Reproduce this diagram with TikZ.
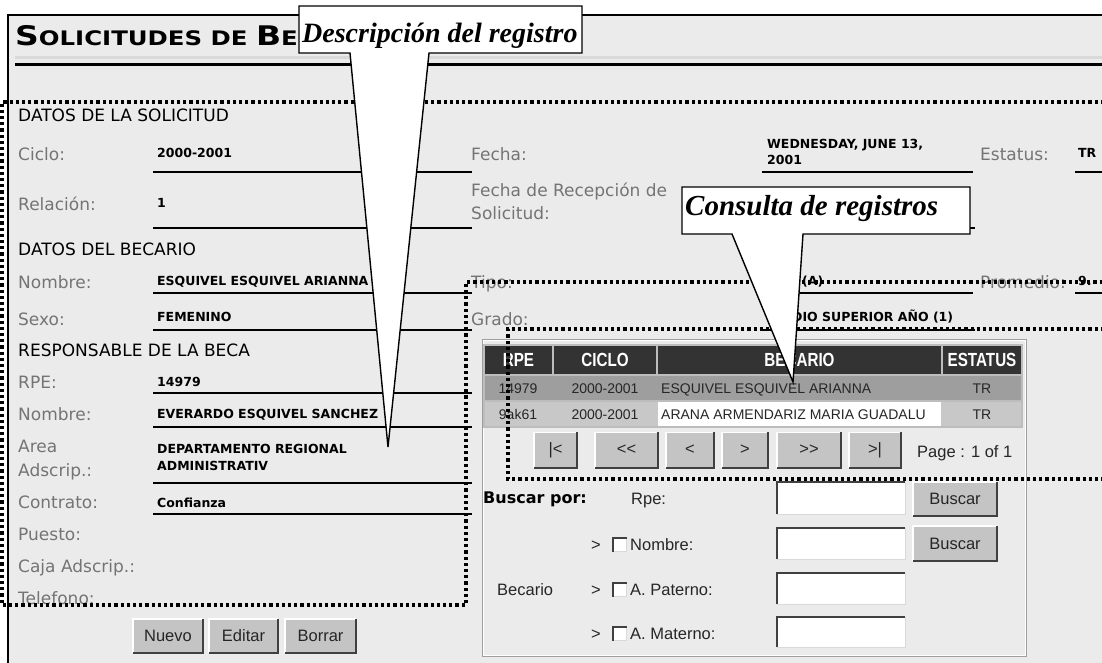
\documentclass[tikz,border=0pt]{standalone}
\usepackage{fontspec}
\setmainfont{DejaVu Sans}
\newfontfamily\dv{DejaVu Sans}
\newfontfamily\ls{Liberation Sans}
\newfontfamily\tms{Liberation Serif}
\definecolor{bg}{HTML}{EBEBEB}
\definecolor{labgray}{HTML}{747474}
\definecolor{hdr}{HTML}{333333}
\definecolor{rowa}{HTML}{9E9E9E}
\definecolor{rowb}{HTML}{C8C8C8}
\definecolor{btnface}{HTML}{C4C4C4}
\definecolor{btndark}{HTML}{404040}
\definecolor{tblbg}{HTML}{BDBDBD}
\tikzset{
 lab/.style={anchor=base west, inner sep=0pt, font=\dv\fontsize{17}{17}\selectfont, text=labgray},
 sec/.style={lab, text=black},
 val/.style={anchor=base west, inner sep=0pt, font=\dv\bfseries\fontsize{12.5}{12.5}\selectfont, text=black},
 fline/.style={line width=2pt, black},
 dotbord/.style={draw=black, line width=3.4pt, dash pattern=on 3.2pt off 3pt},
 hcell/.style={fill=hdr, draw=none, inner sep=0pt, text=white},
 rcell/.style={draw=none, inner sep=0pt},
 rtext/.style={anchor=base, inner sep=0pt, font=\ls\fontsize{14}{14}\selectfont, text=black!85},
 btn/.style={fill=btnface, draw=none, inner sep=0pt, font=\ls\fontsize{16.5}{16.5}\selectfont, text=black!85},
 field/.style={fill=white, draw=none, inner sep=0pt},
 stxt/.style={anchor=base west, inner sep=0pt, font=\ls\fontsize{16.5}{16.5}\selectfont, text=black!85},
 callout/.style={fill=white, draw=black, line width=1.4pt, line join=miter},
 ctext/.style={anchor=base west, inner sep=0pt, font=\tms\bfseries\itshape\fontsize{28}{28}\selectfont},
}
\newcommand\hd[1]{\scalebox{0.8}[1]{\ls\bfseries\fontsize{19}{19}\selectfont #1}}
\newcommand\mybevel[1]{%
 \draw[white, line width=1.5pt] (#1.south west) -- (#1.north west) -- (#1.north east);
 \draw[btndark, line width=2pt] (#1.south west) -- (#1.south east) -- (#1.north east);}
\newcommand\myinset[1]{%
 \draw[gray!30, line width=1pt] (#1.south west) -- (#1.south east) -- (#1.north east);
 \draw[btndark, line width=2pt] (#1.south west) -- (#1.north west) -- (#1.north east);}
\begin{document}
\begin{tikzpicture}[x=1pt,y=-1pt]
\useasboundingbox (0,0) rectangle (1102,662);
\clip (0,0) rectangle (1102,662);
% background
\fill[white] (0,0) rectangle (1102,662);
\fill[bg] (8,15) rectangle (1104,664);
\draw[black, line width=2pt] (8,664) -- (8,15) -- (1104,15);
% heading
\node[anchor=base west, inner sep=0pt] (title) at (15,45)
 {\scalebox{1.22}[1]{\dv\bfseries{\fontsize{27}{27}\selectfont S}\fontsize{20}{20}\selectfont OLICITUDES DE {\fontsize{27}{27}\selectfont B}E}};
\draw[gray!30, line width=3pt] (15,57) -- (1104,57);
\draw[black, line width=3pt] (15,64) -- (1104,64);
% form lines
\foreach \yy in {172,228,293,330,393,427,483,514} {\draw[fline] (153,\yy) -- (472,\yy);}
\draw[fline] (762,172) -- (973,172);
\draw[fline] (762,228) -- (975,228);
\draw[fline] (762,293) -- (973,293);
\draw[fline] (762,330) -- (975,330);
\draw[fline] (1075,172) -- (1104,172);
\draw[fline] (1075,293) -- (1104,293);
% left column
\node[sec] (s1) at (18,121) {DATOS DE LA SOLICITUD};
\node[lab] (l1) at (18,160) {Ciclo:};
\node[val] (v1) at (157,157) {2000-2001};
\node[lab] (l2) at (18,210) {Relación:};
\node[val] (v2) at (157,207) {1};
\node[sec] (s2) at (18,255) {DATOS DEL BECARIO};
\node[lab] (l3) at (18,288) {Nombre:};
\node[val] (v3) at (157,285) {ESQUIVEL ESQUIVEL ARIANNA};
\node[lab] (l4) at (18,325) {Sexo:};
\node[val] (v4) at (157,321) {FEMENINO};
\node[sec] (s3) at (18,356) {RESPONSABLE DE LA BECA};
\node[lab] (l5) at (18,388) {RPE:};
\node[val] (v5) at (157,386) {14979};
\node[lab] (l6) at (18,420) {Nombre:};
\node[val] (v6) at (157,418) {EVERARDO ESQUIVEL SANCHEZ};
\node[lab] (l7) at (18,452) {Area};
\node[lab] (l7b) at (18,476) {Adscrip.:};
\node[val] (v7) at (157,453) {DEPARTAMENTO REGIONAL};
\node[val] (v7b) at (157,470) {ADMINISTRATIV};
\node[lab] (l8) at (18,508) {Contrato:};
\node[val] (v8) at (157,507) {Confianza};
\node[lab] (l9) at (18,540) {Puesto:};
\node[lab] (l10) at (18,572) {Caja Adscrip.:};
\node[lab] (l11) at (18,604) {Telefono:};
% right column
\node[lab] (r1) at (471,160) {Fecha:};
\node[val] (rv1) at (767,148) {WEDNESDAY, JUNE 13,};
\node[val] (rv1b) at (767,164) {2001};
\node[lab] (r2) at (980,160) {Estatus:};
\node[val] (rv2) at (1078,157) {TR};
\node[lab] (r3) at (471,196) {Fecha de Recepción de};
\node[lab] (r3b) at (471,219) {Solicitud:};
\node[lab] (r4) at (471,288) {Tipo:};
\node[val] (rv4) at (802,285) {(A)};
\node[lab] (r5) at (980,288) {Promedio:};
\node[val] (rv5) at (1078,285) {9.};
\node[lab] (r6) at (471,325) {Grado:};
\node[val] (rv6) at (771,321) {MEDIO SUPERIOR AÑO (1)};
% buttons left
\node[btn, minimum width=70, minimum height=34] (nuevo) at (168,636) {Nuevo};
\node[btn, minimum width=69, minimum height=34] (editar) at (243.5,636) {Editar};
\node[btn, minimum width=71, minimum height=34] (borrar) at (320.5,636) {Borrar};
\mybevel{nuevo}\mybevel{editar}\mybevel{borrar}
% panel
\node[draw=gray!75, line width=1.2pt, minimum width=543, minimum height=316, inner sep=0pt] (panel) at (754.5,498) {};
\draw[white, line width=1pt] ([xshift=1.5pt,yshift=-1.5pt]panel.north west) rectangle ([xshift=-1.5pt,yshift=1.5pt]panel.south east);
% table
\fill[tblbg] (483,344) rectangle (1023,428);
\node[hcell, minimum width=67, minimum height=28] (h1) at (518.5,360) {\hd{RPE}};
\node[hcell, minimum width=102, minimum height=28] (h2) at (605,360) {\hd{CICLO}};
\node[hcell, minimum width=283, minimum height=28] (h3) at (799.5,360) {\hd{BECARIO}};
\node[hcell, minimum width=78, minimum height=28] (h4) at (982,360) {\hd{ESTATUS}};
\node[rcell, fill=rowa, minimum width=536, minimum height=24] (row1) at (753,388) {};
\node[rcell, fill=rowb, minimum width=536, minimum height=24] (row2) at (753,414) {};
\node[rcell, fill=white, minimum width=283, minimum height=24] (row2c) at (799.5,414) {};
\node[rtext] (t11) at (518,393) {14979};
\node[rtext] (t12) at (605,393) {2000-2001};
\node[rtext, anchor=base west] (t13) at (661,393) {ESQUIVEL ESQUIVEL ARIANNA};
\node[rtext] (t14) at (982,393) {TR};
\node[rtext] (t21) at (518,419) {9ak61};
\node[rtext] (t22) at (605,419) {2000-2001};
\node[rtext, anchor=base west] (t23) at (661,419) {ARANA ARMENDARIZ MARIA GUADALU};
\node[rtext] (t24) at (982,419) {TR};
% pagination
\node[btn, minimum width=43, minimum height=35] (p1) at (555.5,450) {|<};
\node[btn, minimum width=63, minimum height=35] (p2) at (626.5,450) {<<};
\node[btn, minimum width=48, minimum height=35] (p3) at (690,450) {<};
\node[btn, minimum width=46, minimum height=35] (p4) at (745,450) {>};
\node[btn, minimum width=64, minimum height=35] (p5) at (809,450) {>>};
\node[btn, minimum width=52, minimum height=35] (p6) at (875,450) {>|};
\mybevel{p1}\mybevel{p2}\mybevel{p3}\mybevel{p4}\mybevel{p5}\mybevel{p6}
\node[stxt] (page) at (917,457) {Page : 1 of 1};
% search
\node[anchor=base west, inner sep=0pt, font=\dv\bfseries\fontsize{16}{16}\selectfont] (bpor) at (483,503) {Buscar por:};
\node[stxt] (rpe) at (631,504) {Rpe:};
\node[field, minimum width=128, minimum height=32] (f1) at (841,498) {};
\node[field, minimum width=128, minimum height=31] (f2) at (841,543.5) {};
\node[field, minimum width=128, minimum height=31] (f3) at (841,588.5) {};
\node[field, minimum width=128, minimum height=30] (f4) at (841,632) {};
\myinset{f1}\myinset{f2}\myinset{f3}\myinset{f4}
\node[btn, minimum width=84, minimum height=34] (b1) at (955,499) {Buscar};
\node[btn, minimum width=84, minimum height=35] (b2) at (955,543.5) {Buscar};
\mybevel{b1}\mybevel{b2}
\node[stxt] (g1) at (591,550) {>};
\node[field, minimum size=13] (cb1) at (620,545) {};
\node[stxt] (n1) at (630,550) {Nombre:};
\node[stxt] (bec) at (497,595) {Becario};
\node[stxt] (g2) at (591,595) {>};
\node[field, minimum size=13] (cb2) at (620,590) {};
\node[stxt] (n2) at (630,595) {A. Paterno:};
\node[stxt] (g3) at (591,639) {>};
\node[field, minimum size=13] (cb3) at (620,634) {};
\node[stxt] (n3) at (630,639) {A. Materno:};
\myinset{cb1}\myinset{cb2}\myinset{cb3}
% dotted regions
\draw[dotbord] (1104,102) -- (2,102) -- (2,605) -- (466,605) -- (466,282) -- (1104,282);
\draw[dotbord] (1104,329) -- (508,329) -- (508,479) -- (1104,479);
% callouts
\coordinate (c1tip) at (388,447);
\coordinate (c2tip) at (793,382);
\draw[callout] (299,6) -- (582,6) -- (582,53) -- (429,53) -- (c1tip) -- (350,53) -- (299,53) -- cycle;
\node[ctext] (c1) at (302,42) {Descripción del registro};
\draw[callout] (682,187) -- (970,187) -- (970,234) -- (803,234) -- (c2tip) -- (732,234) -- (682,234) -- cycle;
\node[ctext, font=\tms\bfseries\itshape\fontsize{29}{29}\selectfont] (c2) at (685,215) {Consulta de registros};
\end{tikzpicture}
\end{document}
